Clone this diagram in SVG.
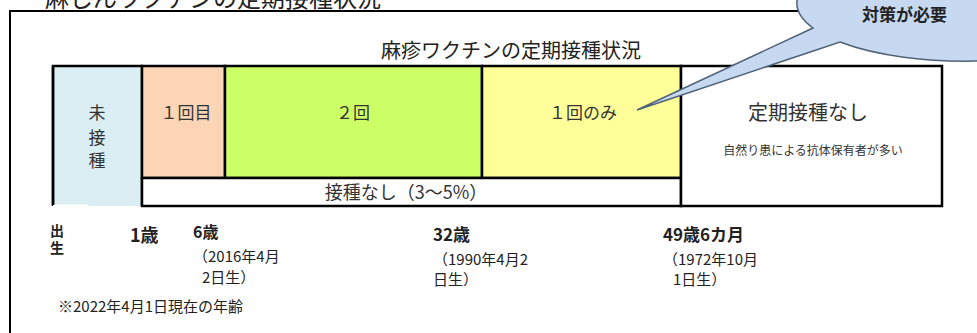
<svg xmlns="http://www.w3.org/2000/svg" width="977" height="333" viewBox="0 0 977 333">
<style>
.jp{font-family:"Noto Sans CJK JP","Noto Sans",sans-serif;}
.cell{font-family:"Noto Sans CJK JP",sans-serif;fill:#333;text-anchor:middle;}
.lbl{font-family:"Noto Sans CJK JP",sans-serif;fill:#222;}
.bd{stroke:#000;stroke-width:2.5;fill:none;}
</style>
<rect width="977" height="333" fill="#fff"/>
<!-- cut-off page title -->
<text class="jp" x="45" y="7" font-size="24" fill="#222">麻しんワクチンの定期接種状況</text>
<!-- outer frame -->
<rect x="10" y="11" width="1000" height="400" fill="none" stroke="#000" stroke-width="2"/>

<text class="jp" x="511" y="58" font-size="20" fill="#222" text-anchor="middle">麻疹ワクチンの定期接種状況</text>

<g id="cell-unvaccinated">
<rect x="53" y="66" width="89" height="140" fill="#daeef3"/>
<path d="M53,206 V66 H142 V206" class="bd"/>
<text class="cell" x="97" y="119" font-size="17">未</text>
<text class="cell" x="97" y="144" font-size="17">接</text>
<text class="cell" x="97" y="167" font-size="17">種</text>
</g>
<g id="cell-first">
<rect x="142" y="66" width="83" height="112" fill="#fbd5b5" stroke="#000" stroke-width="2.5"/>
<text class="cell" x="186" y="119" font-size="17">１回目</text>
</g>
<g id="cell-two">
<rect x="225" y="66" width="257" height="112" fill="#ccff66" stroke="#000" stroke-width="2.5"/>
<text class="cell" x="353" y="119" font-size="17">２回</text>
</g>
<g id="cell-once">
<rect x="482" y="66" width="199" height="112" fill="#ffff99" stroke="#000" stroke-width="2.5"/>
<text class="cell" x="583" y="119" font-size="17">１回のみ</text>
</g>
<g id="cell-none">
<rect x="142" y="178" width="539" height="28" fill="#fff" stroke="#000" stroke-width="2.5"/>
<text class="cell" x="406" y="199" font-size="18">接種なし（3～5%）</text>
</g>
<g id="cell-noroutine">
<rect x="681" y="66" width="261" height="140" fill="#fff" stroke="#000" stroke-width="2.5"/>
<text class="cell" x="808" y="120" font-size="20">定期接種なし</text>
<text class="cell" x="813" y="155" font-size="12">自然り患による抗体保有者が多い</text>
</g>
<path d="M53,206 H88" stroke="#fff" stroke-width="3"/>
<path d="M53,66 V205" stroke="#000" stroke-width="2.5"/>

<g id="callout">
<path d="M813,28 L637,110 L840,42 A168 58 0 1 0 813 28 Z" fill="#c6d9f0" stroke="#4f6278" stroke-width="1.5"/>
<text class="jp" x="862" y="21" font-size="17" font-weight="bold" fill="#222">対策が必要</text>
</g>

<g id="ages">
<text class="lbl" font-size="14" font-weight="bold"><tspan x="50" y="236">出</tspan><tspan x="50" y="253">生</tspan></text>
<text class="lbl" x="130" y="242" font-size="18" font-weight="bold">1歳</text>
<text class="lbl" x="193" y="238" font-size="16" font-weight="bold">6歳</text>
<text class="lbl" x="193" y="262" font-size="15">（2016年4月</text>
<text class="lbl" x="202" y="283" font-size="15">2日生）</text>
<text class="lbl" x="433" y="241" font-size="17" font-weight="bold">32歳</text>
<text class="lbl" x="433" y="265" font-size="15">（1990年4月2</text>
<text class="lbl" x="433" y="285" font-size="15">日生）</text>
<text class="lbl" x="663" y="241" font-size="17" font-weight="bold">49歳6カ月</text>
<text class="lbl" x="663" y="265" font-size="15">（1972年10月</text>
<text class="lbl" x="673" y="285" font-size="15">1日生）</text>
<text class="lbl" x="58" y="312" font-size="15" fill="#333">※2022年4月1日現在の年齢</text>
</g>
</svg>
